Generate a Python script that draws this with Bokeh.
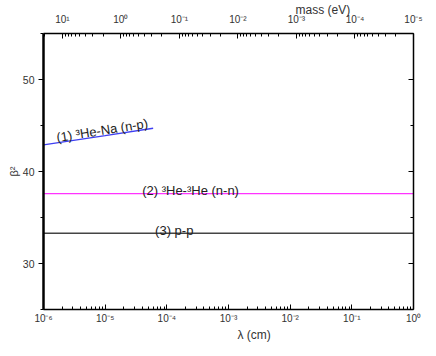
from bokeh.plotting import figure
from bokeh.models import (Range1d, LogAxis, LinearAxis, LogScale, FixedTicker,
                          SingleIntervalTicker, CustomJSTickFormatter, Label, Title)
from bokeh.embed import file_html
from bokeh.resources import INLINE
import math

# ---- data ----
lam_np = [1e-6, 1e-5, 6e-5]          # (1) 3He-Na (n-p)
beta_np = [42.9, 43.9, 44.7]
lam_full = [1e-6, 1.0]
beta_nn = [37.6, 37.6]                # (2) 3He-3He (n-n)
beta_pp = [33.28, 33.28]              # (3) p-p

lam_decades = [1e-6, 1e-5, 1e-4, 1e-3, 1e-2, 1e-1, 1e0]
mass_decades = [1e1, 1e0, 1e-1, 1e-2, 1e-3, 1e-4, 1e-5]
labels = ["(1) \u00b3He-Na (n-p)", "(2) \u00b3He-\u00b3He (n-n)", "(3) p-p"]

FONT = "Liberation Sans"

def minors(decs):
    out = []
    for d in decs:
        for m in range(2, 10):
            out.append(m * d)
    return out

p = figure(width=436, height=356, x_axis_type="log",
           x_range=Range1d(1e-6, 1.0), y_range=Range1d(25, 55),
           output_backend="svg", toolbar_location=None,
           min_border_left=43, min_border_right=23, min_border_top=33,
           min_border_bottom=47)
p.outline_line_color = None
p.background_fill_color = "white"
p.border_fill_color = "white"
p.xgrid.visible = False
p.ygrid.visible = False

fmt = CustomJSTickFormatter(code="""
const sup = {"-":"\u207b","0":"\u2070","1":"\u00b9","2":"\u00b2","3":"\u00b3","4":"\u2074","5":"\u2075","6":"\u2076","7":"\u2077","8":"\u2078","9":"\u2079"};
const e = Math.round(Math.log10(tick));
return "10" + String(e).split("").map(c => sup[c]).join("");
""")

# bottom axis
xb = p.xaxis[0]
xb.ticker = FixedTicker(ticks=lam_decades, minor_ticks=minors(lam_decades[:-1]))
xb.formatter = fmt
xb.major_tick_in = 5; xb.major_tick_out = 0
xb.minor_tick_in = 3; xb.minor_tick_out = 0
xb.axis_line_width = 1.5
xb.major_label_standoff = 3
xb.major_label_text_font = FONT
xb.major_label_text_font_size = "10px"
xb.major_label_text_color = "#333333"

# top axis (mass)
p.extra_x_ranges = {"mass": Range1d(21.0, 1e-5)}
p.extra_x_scales = {"mass": LogScale()}
xt = LogAxis(x_range_name="mass",
             ticker=FixedTicker(ticks=mass_decades, minor_ticks=minors(mass_decades[1:]) + [20.0]),
             formatter=fmt)
xt.major_tick_in = 5; xt.major_tick_out = 0
xt.minor_tick_in = 3; xt.minor_tick_out = 0
xt.axis_line_width = 1.5
xt.major_label_standoff = 9
xt.major_label_text_font = FONT
xt.major_label_text_font_size = "10px"
xt.major_label_text_color = "#333333"
p.add_layout(xt, "above")

# left axis
yl = p.yaxis[0]
yl.ticker = SingleIntervalTicker(interval=10, num_minor_ticks=2)
yl.axis_label = "\u03b2\u00b2"
yl.major_tick_in = 0; yl.major_tick_out = 5
yl.minor_tick_in = 0; yl.minor_tick_out = 3
yl.axis_line_width = 2.5
yl.major_label_standoff = 4
yl.major_label_text_font = FONT
yl.major_label_text_font_size = "10.5px"
yl.major_label_text_color = "#333333"
yl.axis_label_text_font = FONT
yl.axis_label_text_font_style = "normal"
yl.axis_label_text_font_size = "11px"
yl.axis_label_text_color = "#333333"
yl.axis_label_standoff = 0

# right axis
yr = LinearAxis(ticker=SingleIntervalTicker(interval=10, num_minor_ticks=2),
                formatter=CustomJSTickFormatter(code='return "";'))
yr.major_tick_in = 5; yr.major_tick_out = 0
yr.minor_tick_in = 3; yr.minor_tick_out = 0
yr.axis_line_width = 1.5
yr.major_label_standoff = 0
p.add_layout(yr, "right")

# axis titles placed off-centre as in the reference
p.add_layout(Title(text="mass (eV)", align="left", offset=252, standoff=-12,
                   text_font=FONT, text_font_size="12px", text_font_style="normal",
                   text_color="#333333"), "above")
p.add_layout(Title(text="\u03bb (cm)", align="left", offset=194, standoff=-2,
                   text_font=FONT, text_font_size="12px", text_font_style="normal",
                   text_color="#333333"), "below")

# lines
p.line(lam_np, beta_np, line_color="#3f3ff2", line_width=1.3)
p.line(lam_full, beta_nn, line_color="#ff33ff", line_width=1.4)
p.line(lam_full, beta_pp, line_color="#444444", line_width=1.4)

def lab(x, y, t, size="13px", angle=0.0):
    p.add_layout(Label(x=x, y=y, text=t, text_font=FONT, text_font_size=size,
                       text_color="#222222", angle=angle, text_align="left",
                       text_baseline="alphabetic"))

lab(10**-5.79, 43.68, labels[0], angle=math.radians(9.0))
lab(10**-4.40, 37.9, labels[1])
lab(10**-4.19, 33.55, labels[2])

open("out.html", "w").write(file_html(p, INLINE))
